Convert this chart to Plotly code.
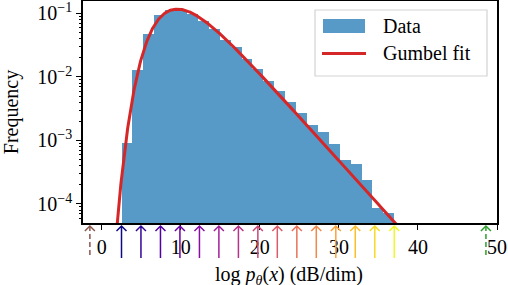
import numpy as np
import plotly.graph_objects as go
from plotly.colors import sample_colorscale

# ---------------- data ----------------
bin_start = 2.5
bin_end = 37.0
frequencies = [9.0e-4, 0.013, 0.047, 0.094, 0.113, 0.112, 0.097, 0.077, 0.057, 0.038,
               0.0292, 0.0189, 0.0131, 0.0086, 0.0060, 0.0040, 0.0027, 0.00173, 0.00134, 8.8e-4,
               5.0e-4, 4.2e-4, 2.4e-4, 8.5e-5, 7.1e-5]
gumbel_loc = 9.55
gumbel_scale = 3.15
arrow_positions = [2.5, 4.96, 7.43, 9.89, 12.36, 14.82, 17.29, 19.75, 22.21, 24.68,
                   27.14, 29.61, 32.07, 34.54, 37.0]
dashed_arrow_positions = [-1.5, 48.6]
dashed_arrow_colors = ["#8c564b", "#2ca02c"]
legend_labels = ["Data", "Gumbel fit"]
x_title = "log <i>p</i><sub><i>θ</i></sub>(<i>x</i>) (dB/dim)"
y_title = "Frequency"
x_ticks = [0, 10, 20, 30, 40, 50]
y_ticks = [1e-4, 1e-3, 1e-2, 1e-1]
y_ticktext = ["10<sup>−4</sup>", "10<sup>−3</sup>", "10<sup>−2</sup>", "10<sup>−1</sup>"]

# ---------------- derived ----------------
n_bins = len(frequencies)
edges = np.linspace(bin_start, bin_end, n_bins + 1)
centers = 0.5 * (edges[:-1] + edges[1:])
width = edges[1] - edges[0]

xs = np.linspace(0.5, 38.5, 800)
z = (xs - gumbel_loc) / gumbel_scale
pdf = np.exp(-(z + np.exp(-z))) / gumbel_scale

FONT = "Liberation Serif"
FS = 20
BLUE = "rgba(31,119,180,0.75)"
RED = "#d62728"

W, H = 508, 285
ML, MR, MT, MB = 83, 11, 1, 62
PW, PH = W - ML - MR, H - MT - MB


def px_x(p):
    return (p - ML) / PW


def px_y(p):
    return (H - MB - p) / PH


fig = go.Figure()
fig.add_trace(go.Bar(x=centers, y=frequencies, width=width,
                     marker=dict(color=BLUE, line=dict(width=0)),
                     name=legend_labels[0], showlegend=False))
fig.add_trace(go.Scatter(x=xs, y=pdf, mode="lines",
                         line=dict(color=RED, width=3), name=legend_labels[1],
                         showlegend=False))

colors = sample_colorscale("Plasma", [i / (len(arrow_positions) - 1) for i in range(len(arrow_positions))])

tip_y = px_y(226)
HEAD = "M-5,-5 L0,0 L5,-5"
shapes = []
for v, c in zip(arrow_positions, colors):
    shapes.append(dict(type="path", xref="x", yref="paper", xsizemode="pixel", ysizemode="pixel",
                       xanchor=v, yanchor=tip_y, path="M0,-32 L0,0 " + HEAD,
                       line=dict(color=c, width=1.5)))
for v, c in zip(dashed_arrow_positions, dashed_arrow_colors):
    shapes.append(dict(type="path", xref="x", yref="paper", xsizemode="pixel", ysizemode="pixel",
                       xanchor=v, yanchor=tip_y, path=HEAD,
                       line=dict(color=c, width=1.5)))
    shapes.append(dict(type="path", xref="x", yref="paper", xsizemode="pixel", ysizemode="pixel",
                       xanchor=v, yanchor=tip_y, path="M0,0 L0,-32",
                       line=dict(color=c, width=1.5, dash="5px,3px")))

# legend box (matplotlib style, drawn manually)
shapes.append(dict(type="rect", xref="paper", yref="paper",
                   x0=px_x(315), x1=px_x(487), y0=px_y(76), y1=px_y(10),
                   line=dict(color="#d3d3d3", width=1.2), fillcolor="rgba(255,255,255,0.8)"))
shapes.append(dict(type="rect", xref="paper", yref="paper",
                   x0=px_x(323), x1=px_x(365), y0=px_y(33), y1=px_y(19),
                   line=dict(width=0), fillcolor=BLUE))
shapes.append(dict(type="line", xref="paper", yref="paper",
                   x0=px_x(322), x1=px_x(366), y0=px_y(53.5), y1=px_y(53.5),
                   line=dict(color=RED, width=3)))
annotations = [
    dict(text=legend_labels[0], x=px_x(381), y=px_y(26), xref="paper", yref="paper",
         xanchor="left", yanchor="middle", showarrow=False, font=dict(family=FONT, size=FS)),
    dict(text=legend_labels[1], x=px_x(381), y=px_y(53), xref="paper", yref="paper",
         xanchor="left", yanchor="middle", showarrow=False, font=dict(family=FONT, size=FS)),
    dict(text=x_title, x=px_x(289), y=px_y(275), xref="paper", yref="paper",
         xanchor="center", yanchor="middle", showarrow=False, font=dict(family=FONT, size=FS)),
]

minor_vals = [k * 10.0 ** e for e in range(-5, 0) for k in range(2, 10)]

fig.update_layout(
    width=W, height=H,
    margin=dict(l=ML, r=MR, t=MT, b=MB, autoexpand=False),
    paper_bgcolor="white", plot_bgcolor="white",
    font=dict(family=FONT, size=FS, color="black"),
    bargap=0,
    showlegend=False,
    shapes=shapes,
    annotations=annotations,
    xaxis=dict(range=[-2.37, 50], tickvals=x_ticks, ticks="outside", ticklen=5,
               tickwidth=1.2, tickcolor="black", showline=True, linecolor="black",
               linewidth=1.5, mirror=True, showgrid=False, zeroline=False,
               ticklabeloverflow="allow"),
    yaxis=dict(type="log", range=[-4.30, -0.805], tickvals=y_ticks, ticktext=y_ticktext,
               ticks="outside", ticklen=5, tickwidth=1.2, tickcolor="black",
               showline=True, linecolor="black", linewidth=1.5, mirror=True,
               showgrid=False, zeroline=False, ticklabeloverflow="allow",
               minor=dict(tickvals=minor_vals, ticks="outside", ticklen=2.5,
                          tickwidth=1, tickcolor="black", showgrid=False),
               title=dict(text=y_title, standoff=18, font=dict(family=FONT, size=FS))),
)

fig.write_html("out.html", config={"displayModeBar": False},
               post_script="document.body.style.margin='0px';document.body.style.overflow='hidden';")
